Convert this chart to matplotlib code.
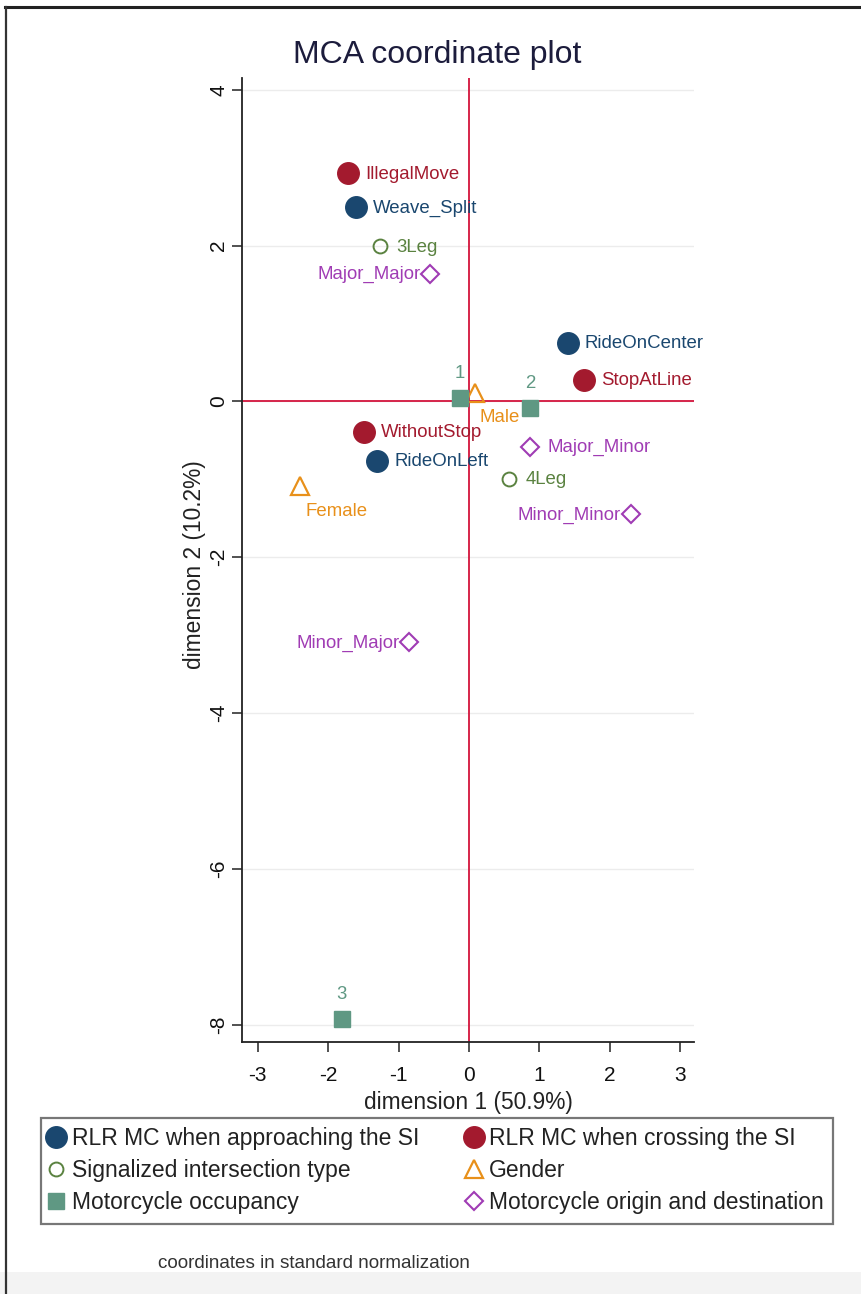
import matplotlib
matplotlib.use("Agg")
import matplotlib.pyplot as plt
from matplotlib.lines import Line2D
from matplotlib.patches import Rectangle

plt.rcParams['font.family'] = ['Liberation Sans', 'DejaVu Sans']
plt.rcParams['axes.unicode_minus'] = False

# ---- MCA category coordinates (standard normalization) ----
approach_names = ['Weave_Split', 'RideOnCenter', 'RideOnLeft']
approach_x = [-1.60, 1.40, -1.30]
approach_y = [2.49, 0.75, -0.76]

cross_names = ['IllegalMove', 'StopAtLine', 'WithoutStop']
cross_x = [-1.72, 1.64, -1.49]
cross_y = [2.93, 0.28, -0.39]

inter_names = ['3Leg', '4Leg']
inter_x = [-1.27, 0.57]
inter_y = [1.99, -0.99]

gender_names = ['Male', 'Female']
gender_x = [0.085, -2.40]
gender_y = [0.11, -1.09]

occup_names = ['1', '2', '3']
occup_x = [-0.13, 0.87, -1.81]
occup_y = [0.04, -0.09, -7.93]

origin_names = ['Major_Major', 'Major_Minor', 'Minor_Minor', 'Minor_Major']
origin_x = [-0.55, 0.87, 2.30, -0.85]
origin_y = [1.64, -0.58, -1.45, -3.09]

legend_labels = ['RLR MC when approaching the SI', 'RLR MC when crossing the SI',
                 'Signalized intersection type', 'Gender',
                 'Motorcycle occupancy', 'Motorcycle origin and destination']

x_ticks = [-3, -2, -1, 0, 1, 2, 3]
y_ticks = [4, 2, 0, -2, -4, -6, -8]

# ---- figure geometry (pixels) ----
W, H = 861, 1294
fig = plt.figure(figsize=(W / 100, H / 100), dpi=100)
fig.patch.set_facecolor('white')

def fx(px):
    return px / W

def fy(py):
    return 1 - py / H

ax_l, ax_r, ax_t, ax_b = 242, 694, 78, 1042
ax = fig.add_axes([fx(ax_l), fy(ax_b), (ax_r - ax_l) / W, (ax_b - ax_t) / H])
ax.set_xlim(-3.224, 3.196)
ax.set_ylim(-8.22, 4.15)

NAVY = '#1a476f'
RED = '#a31a2e'
GREEN = '#5a8240'
ORANGE = '#e8901a'
TEAL = '#5f9883'
PURPLE = '#a03cb4'
REFRED = '#d3143c'

# grid and reference lines
for yt in y_ticks:
    ax.axhline(yt, color='#ececec', lw=1.0, zorder=0)
ax.axhline(0, color=REFRED, lw=1.3, zorder=1)
ax.axvline(0, color=REFRED, lw=1.3, zorder=1)

styles = [
    (approach_names, approach_x, approach_y, dict(marker='o', ms=15.5, mfc=NAVY, mec=NAVY), NAVY,
     ['right'] * 3),
    (cross_names, cross_x, cross_y, dict(marker='o', ms=15.5, mfc=RED, mec=RED), RED,
     ['right'] * 3),
    (inter_names, inter_x, inter_y, dict(marker='o', ms=10, mfc='none', mec=GREEN, mew=1.4), GREEN,
     ['right'] * 2),
    (gender_names, gender_x, gender_y, dict(marker='^', ms=13, mfc='none', mec=ORANGE, mew=1.6), ORANGE,
     ['below'] * 2),
    (occup_names, occup_x, occup_y, dict(marker='s', ms=11.5, mfc=TEAL, mec=TEAL), TEAL,
     ['above'] * 3),
    (origin_names, origin_x, origin_y, dict(marker='D', ms=9, mfc='none', mec=PURPLE, mew=1.5), PURPLE,
     ['left', 'right', 'left', 'left']),
]

handles = []
for names, xs, ys, mk, col, pos in styles:
    h, = ax.plot(xs, ys, linestyle='none', zorder=3, **mk)
    handles.append(h)
    for name, x, y, p in zip(names, xs, ys, pos):
        if p == 'right':
            off, ha, va = (17, -1), 'left', 'center'
        elif p == 'left':
            off, ha, va = (-10, -1), 'right', 'center'
        elif p == 'above':
            off, ha, va = (0, 25), 'center', 'center'
        else:
            off, ha, va = (5, -25), 'left', 'center'
        ax.annotate(name, (x, y), xytext=off, textcoords='offset pixels',
                    ha=ha, va=va, color=col, fontsize=13.4, zorder=4)

# axes styling
for s in ['top', 'right']:
    ax.spines[s].set_visible(False)
for s in ['left', 'bottom']:
    ax.spines[s].set_color('#222222')
    ax.spines[s].set_linewidth(1.3)
ax.set_xticks(x_ticks)
ax.set_yticks(y_ticks)
ax.set_xticklabels([str(t) for t in x_ticks])
ax.set_yticklabels([str(t) for t in y_ticks], rotation=90, va='center')
ax.tick_params(axis='both', direction='out', length=7, width=1.1, color='#222222',
               labelsize=15, labelcolor='#111111')
ax.tick_params(axis='x', pad=10)
ax.tick_params(axis='y', pad=3)

# titles and axis labels
fig.text(fx(437), fy(55), 'MCA coordinate plot', ha='center', va='center',
         fontsize=23, color='#1c1c3c')
fig.text(fx(468), fy(1103), 'dimension 1 (50.9%)', ha='center', va='center',
         fontsize=16.4, color='#222222')
fig.text(fx(194), fy(565), 'dimension 2 (10.2%)', ha='center', va='center',
         rotation=90, fontsize=16.4, color='#222222')

# legend: column-major order gives rows (approach, crossing), (type, gender), (occupancy, origin)
order = [0, 2, 4, 1, 3, 5]
leg = fig.legend([handles[i] for i in order], [legend_labels[i] for i in order],
                 ncol=2, mode='expand', loc='upper left',
                 bbox_to_anchor=(fx(41), fy(1225), (833 - 41) / W, (1225 - 1118) / H),
                 bbox_transform=fig.transFigure, fontsize=16.5, frameon=True,
                 fancybox=False, borderpad=0.4, handlelength=0.55, handletextpad=0.4,
                 labelspacing=0.40, borderaxespad=0.0, columnspacing=1.0)
leg.get_frame().set_edgecolor('#555555')
leg.get_frame().set_linewidth(1.6)
for t in leg.get_texts():
    t.set_color('#222222')

fig.text(fx(158), fy(1263), 'coordinates in standard normalization', ha='left', va='center',
         fontsize=13.6, color='#333333')

# outer frame and bottom band
fig.add_artist(Rectangle((0, 0), 1, fy(1272), transform=fig.transFigure,
                         facecolor='#f3f3f3', edgecolor='none', zorder=-1))
fig.add_artist(Line2D([fx(5), 1], [fy(7), fy(7)], transform=fig.transFigure,
                      color='#222222', lw=2.2))
fig.add_artist(Line2D([fx(6), fx(6)], [fy(7), fy(1294)], transform=fig.transFigure,
                      color='#333333', lw=1.6))

fig.savefig('out.png', dpi=100)
